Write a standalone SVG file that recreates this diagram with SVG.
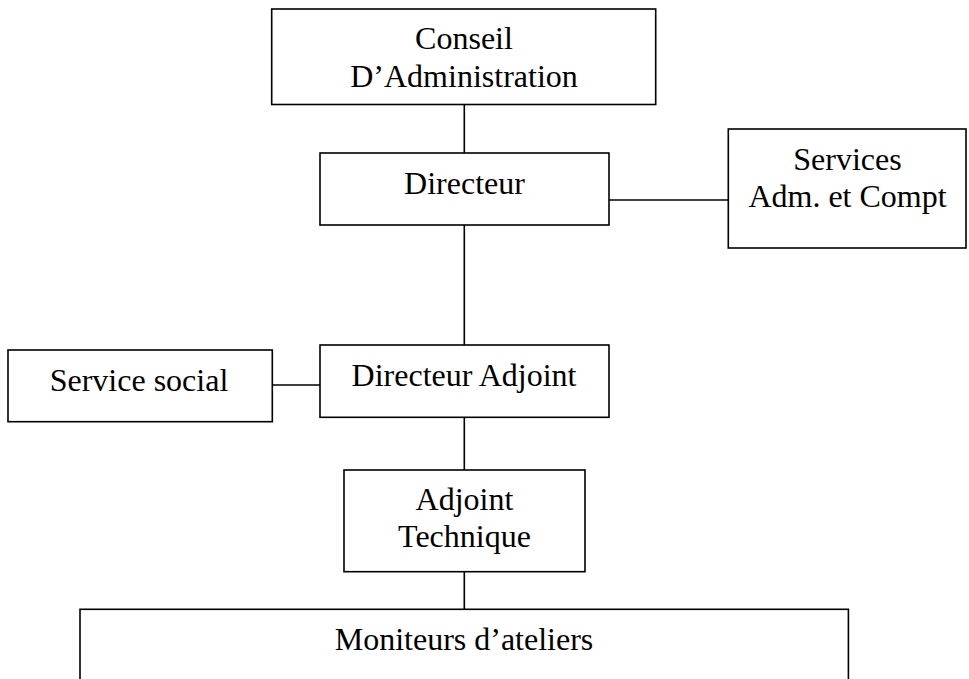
<svg xmlns="http://www.w3.org/2000/svg" width="969" height="679" viewBox="0 0 969 679">
<style>
  rect { fill: #ffffff; stroke: #000000; stroke-width: 1.6; }
  line { stroke: #000000; stroke-width: 1.6; }
  text { font-family: "Liberation Serif", "Times New Roman", serif; font-size: 32px; fill: #000000; text-anchor: middle; }
</style>
<rect x="0" y="0" width="969" height="679" style="fill:#ffffff;stroke:none"/>
<g id="connectors">
  <line x1="464.3" y1="104.5" x2="464.3" y2="153"/>
  <line x1="609" y1="200" x2="728.3" y2="200"/>
  <line x1="464.3" y1="225" x2="464.3" y2="345"/>
  <line x1="272.3" y1="385" x2="320" y2="385"/>
  <line x1="464.3" y1="417.3" x2="464.3" y2="470"/>
  <line x1="464.3" y1="571.7" x2="464.3" y2="609.3"/>
</g>
<g id="conseil">
  <rect x="271.7" y="9" width="384" height="95.5"/>
  <text x="464" y="49">Conseil</text>
  <text x="464" y="87">D’Administration</text>
</g>
<g id="directeur">
  <rect x="320" y="153" width="289" height="72"/>
  <text x="464.5" y="194">Directeur</text>
</g>
<g id="services">
  <rect x="728.3" y="129" width="237.7" height="119"/>
  <text x="847.5" y="170">Services</text>
  <text x="847.5" y="207">Adm. et Compt</text>
</g>
<g id="service-social">
  <rect x="8" y="350" width="264.3" height="71.7"/>
  <text x="139" y="391">Service social</text>
</g>
<g id="directeur-adjoint">
  <rect x="320" y="345" width="289" height="72.3"/>
  <text x="464" y="386">Directeur Adjoint</text>
</g>
<g id="adjoint-technique">
  <rect x="344" y="470" width="241" height="101.7"/>
  <text x="464.5" y="510">Adjoint</text>
  <text x="464.5" y="547">Technique</text>
</g>
<g id="moniteurs">
  <rect x="80" y="609.3" width="768.4" height="90"/>
  <text x="464" y="650">Moniteurs d’ateliers</text>
</g>
</svg>
